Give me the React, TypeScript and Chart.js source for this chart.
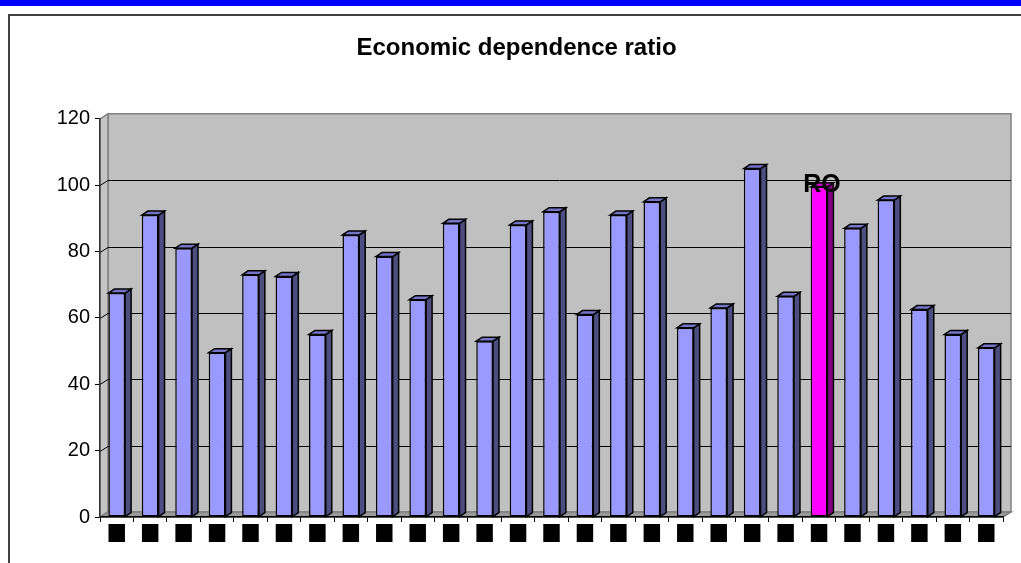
import { useEffect, useRef } from 'react';
import { Chart, registerables } from 'chart.js';

Chart.register(...registerables);

// EU-27 protocol order; the labels render as black blocks in the source
const countries = [
  'BE', 'BG', 'CZ', 'DK', 'DE', 'EE', 'IE', 'EL', 'ES', 'FR', 'IT', 'CY', 'LV', 'LT',
  'LU', 'HU', 'MT', 'NL', 'AT', 'PL', 'PT', 'RO', 'SI', 'SK', 'FI', 'SE', 'UK',
];
const ratio = [
  67.5, 91, 81, 49.5, 73, 72.5, 55, 85, 78.5, 65.5, 88.5, 53, 88, 92,
  61, 91, 95, 57, 63, 105, 66.5, 99.5, 87, 95.5, 62.5, 55, 51,
];
const yTicks = [0, 20, 40, 60, 80, 100, 120];
const highlight = 'RO';

const FONT = "'Liberation Sans', Arial, sans-serif";
const DX = 8; // depth of the walls
const DY = 5;
const BX = 6; // depth of a bar
const BY = 4;

const front = countries.map((c) => (c === highlight ? '#ff00ff' : '#9999ff'));
const side = countries.map((c) => (c === highlight ? '#800080' : '#4d4d80'));
const topFace = countries.map((c) => (c === highlight ? '#c000c0' : '#7575c8'));

const walls = {
  id: 'walls',
  beforeDraw(chart: Chart) {
    const { ctx, chartArea } = chart;
    const { left, right, top, bottom } = chartArea;
    const y = chart.scales.y;
    ctx.save();
    ctx.lineWidth = 1.5;
    ctx.strokeStyle = '#808080';
    // back wall
    ctx.fillStyle = '#c0c0c0';
    ctx.fillRect(left + DX, top - DY, right - left, bottom - top);
    ctx.strokeRect(left + DX, top - DY, right - left, bottom - top);
    // left side wall
    ctx.fillStyle = '#c4c4c4';
    ctx.beginPath();
    ctx.moveTo(left, top);
    ctx.lineTo(left + DX, top - DY);
    ctx.lineTo(left + DX, bottom - DY);
    ctx.lineTo(left, bottom);
    ctx.closePath();
    ctx.fill();
    ctx.stroke();
    // floor
    ctx.fillStyle = '#9a9a9a';
    ctx.beginPath();
    ctx.moveTo(left, bottom);
    ctx.lineTo(left + DX, bottom - DY);
    ctx.lineTo(right + DX, bottom - DY);
    ctx.lineTo(right, bottom);
    ctx.closePath();
    ctx.fill();
    ctx.stroke();
    // gridlines on the walls
    ctx.strokeStyle = '#000';
    ctx.lineWidth = 1;
    yTicks.slice(1, -1).forEach((v) => {
      const py = Math.round(y.getPixelForValue(v)) + 0.5;
      ctx.beginPath();
      ctx.moveTo(left, py);
      ctx.lineTo(left + DX, py - DY);
      ctx.lineTo(right + DX, py - DY);
      ctx.stroke();
    });
    ctx.restore();
  },
  afterDatasetsDraw(chart: Chart) {
    const { ctx } = chart;
    const meta = chart.getDatasetMeta(0);
    ctx.save();
    ctx.lineWidth = 1.5;
    ctx.strokeStyle = '#000';
    ctx.lineJoin = 'miter';
    meta.data.forEach((bar: any, i: number) => {
      const { x, y, base, width } = bar.getProps(['x', 'y', 'base', 'width'], true);
      const l = x - width / 2;
      const r = x + width / 2;
      ctx.fillStyle = side[i];
      ctx.beginPath();
      ctx.moveTo(r, y);
      ctx.lineTo(r + BX, y - BY);
      ctx.lineTo(r + BX, base - BY);
      ctx.lineTo(r, base);
      ctx.closePath();
      ctx.fill();
      ctx.stroke();
      ctx.fillStyle = topFace[i];
      ctx.beginPath();
      ctx.moveTo(l, y);
      ctx.lineTo(l + BX, y - BY);
      ctx.lineTo(r + BX, y - BY);
      ctx.lineTo(r, y);
      ctx.closePath();
      ctx.fill();
      ctx.stroke();
      if (countries[i] === highlight) {
        ctx.fillStyle = '#000';
        ctx.font = `bold 25px ${FONT}`;
        ctx.textAlign = 'center';
        ctx.textBaseline = 'middle';
        ctx.fillText(countries[i], x + BX / 2, y - 2);
      }
    });
    ctx.restore();
  },
};

const DependenceChart = () => {
  const chartRef = useRef<HTMLCanvasElement | null>(null);

  useEffect(() => {
    if (!chartRef.current) return;
    const ctx = chartRef.current.getContext('2d');
    if (!ctx) return;

    const chart = new Chart(ctx, {
      type: 'bar',
      data: {
        labels: countries,
        datasets: [
          {
            label: 'Economic dependence ratio',
            data: ratio,
            backgroundColor: front,
            borderColor: '#000',
            borderWidth: 1.5,
            borderSkipped: false,
            barPercentage: 0.5,
            categoryPercentage: 1,
          },
        ],
      },
      options: {
        responsive: false,
        animation: false,
        layout: { padding: { left: 30, right: 18, top: 0, bottom: 0 } },
        plugins: {
          legend: { display: false },
          tooltip: { enabled: false },
          title: {
            display: true,
            text: 'Economic dependence ratio',
            color: '#000',
            font: { family: FONT, size: 24, weight: 'bold', lineHeight: 1.2 },
            padding: { top: 34, bottom: 56 },
          },
        },
        scales: {
          x: {
            offset: true,
            grid: {
              offset: true,
              drawOnChartArea: false,
              color: '#000',
              tickLength: 5,
            },
            border: { display: true, color: '#000', width: 1.5 },
            ticks: {
              autoSkip: false,
              maxRotation: 0,
              padding: 5,
              color: '#000',
              font: { family: "'DejaVu Sans Mono', monospace", size: 12, weight: 'bold', lineHeight: 1 },
              showLabelBackdrop: true,
              backdropColor: '#000',
              backdropPadding: { top: 3, bottom: 3, left: 1, right: 1 },
            },
            afterFit: (scale: any) => {
              scale.height = 46;
            },
          },
          y: {
            min: 0,
            max: 120,
            afterBuildTicks: (scale: any) => {
              scale.ticks = yTicks.map((v) => ({ value: v }));
            },
            grid: {
              drawOnChartArea: false,
              color: '#000',
              tickLength: 5,
            },
            border: { display: true, color: '#333', width: 1.5 },
            ticks: {
              padding: 5,
              color: '#000',
              font: { family: FONT, size: 20 },
            },
            afterFit: (scale: any) => {
              scale.width = 70;
            },
          },
        },
      },
      plugins: [walls],
    });

    return () => chart.destroy();
  }, []);

  return <canvas ref={chartRef} width={1021} height={563} style={{ position: 'absolute', left: 0, top: 0 }} />;
};

const App = () => (
  <div
    style={{
      position: 'fixed',
      left: 0,
      top: 0,
      width: 1021,
      height: 563,
      overflow: 'hidden',
      background: '#fff',
    }}
  >
    <div style={{ position: 'absolute', left: 0, top: 0, width: 1021, height: 6, background: '#0000ff' }} />
    <div
      style={{
        position: 'absolute',
        left: 8,
        top: 14,
        width: 1100,
        height: 600,
        borderTop: '2px solid #404040',
        borderLeft: '2px solid #404040',
      }}
    />
    <DependenceChart />
  </div>
);

export default App;
